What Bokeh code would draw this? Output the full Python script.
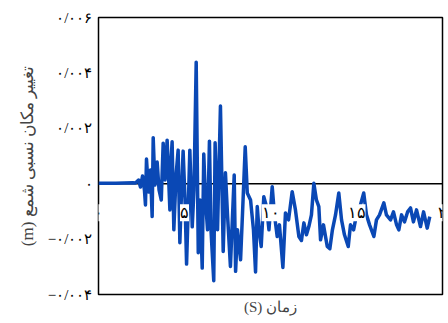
from bokeh.plotting import figure
from bokeh.models import ColumnDataSource, LabelSet, Span, FixedTicker
from bokeh.embed import file_html
from bokeh.resources import INLINE

# time (s)
time_s = [0.00, 1.00, 2.00, 2.15, 2.33, 2.44, 2.56, 2.67, 2.73, 2.79, 2.91, 3.02, 3.12, 3.18,
          3.28, 3.41, 3.52, 3.65, 3.76, 3.87, 3.99, 4.07, 4.15, 4.22, 4.28, 4.38, 4.51, 4.63,
          4.73, 4.83, 4.92, 5.03, 5.12, 5.23, 5.31, 5.45, 5.55, 5.68, 5.80, 5.90, 6.03, 6.12,
          6.22, 6.34, 6.45, 6.54, 6.70, 6.78, 6.92, 7.09, 7.25, 7.38, 7.50, 7.67, 7.89, 7.97,
          8.08, 8.26, 8.37, 8.53, 8.65, 8.84, 9.01, 9.13, 9.23, 9.33, 9.46, 9.61, 9.77, 9.91,
          10.10, 10.23, 10.39, 10.52, 10.72, 10.87, 11.05, 11.26, 11.45, 11.65, 11.80, 11.94,
          12.09, 12.23, 12.38, 12.52, 12.67, 12.81, 12.91, 13.08, 13.30, 13.45, 13.60, 13.78,
          13.97, 14.13, 14.30, 14.52, 14.65, 14.83, 15.00, 15.23, 15.42, 15.58, 15.76, 16.01,
          16.16, 16.34, 16.59, 16.74, 16.98, 17.15, 17.33, 17.46, 17.62, 17.79, 17.97, 18.14,
          18.31, 18.49, 18.72, 18.90, 19.11, 19.26]

# relative pile displacement (x 1e-3 m)
disp_mm = [0.020, 0.020, 0.030, 0.025, 0.133, -0.119, 0.277, -0.227, -0.766, 0.888, -0.299, 0.493,
           -1.187, 1.662, -0.047, 0.781, -0.227, -0.590, 1.464, 0.133, 1.572, 0.313, -0.946, 0.853,
           1.511, -1.665, 0.313, 1.212, -2.133, -0.227, 1.176, -0.586, -2.903, -0.586, 1.212,
           -1.558, -0.227, 4.388, -2.493, -0.586, -3.047, 1.068, -0.586, -1.665, 1.536, -1.665,
           -3.500, 1.475, -1.665, 2.806, -2.446, 0.396, -1.112, -2.986, 0.313, -3.165, -1.665,
           -2.745, -1.112, 1.331, -0.335, -0.586, -1.665, -3.187, -0.827, -1.665, -2.266, -0.468,
           -0.827, -1.665, -0.108, -1.126, -1.906, -1.486, -3.022, -1.054, -1.306, -0.288, -0.946,
           -1.906, -2.050, -1.414, -1.845, -1.547, -1.126, 0.014, -0.586, -0.827, -2.025, -1.486,
           -2.266, -2.349, -1.665, -1.126, -0.335, -1.306, -1.845, -2.266, -1.486, -1.665, -1.126,
           -0.766, -0.335, -1.126, -1.486, -1.906, -1.306, -1.126, -0.694, -1.126, -1.306, -1.018,
           -1.486, -1.665, -1.126, -1.378, -1.018, -0.874, -1.378, -0.946, -1.547, -1.018, -1.604,
           -1.187]

y_ticks = [-0.004, -0.002, 0.0, 0.002, 0.004, 0.006]
y_tick_labels = ["\u2212۰/۰۰۴", "\u2212۰/۰۰۲", "۰", "۰/۰۰۲", "۰/۰۰۴", "۰/۰۰۶"]
x_ticks = [0, 5, 10, 15, 20]
x_tick_labels = ["۰", "۵", "۱۰", "۱۵", "۲"]

x_title = "\u202bزمان (S)\u202c"
y_title = "\u202bتغییر مکان نسبی شمع (m)\u202c"

FONT = "Liberation Serif"
BLUE = "#0a48b5"

disp_m = [v * 1e-3 for v in disp_mm]

p = figure(width=446, height=320, x_range=(0, 20), y_range=(-0.004, 0.006),
           output_backend="svg", toolbar_location=None,
           min_border_left=98, min_border_right=4, min_border_top=17, min_border_bottom=26)
p.background_fill_color = "white"
p.border_fill_color = "white"
p.outline_line_color = "black"
p.outline_line_width = 1.5
p.xgrid.visible = False
p.ygrid.visible = False

zero = Span(location=0, dimension="width", line_color="black", line_width=1.5, level="underlay")
p.add_layout(zero)

p.line(time_s, disp_m, line_color=BLUE, line_width=3.5, line_join="round")

# y axis
yax = p.yaxis[0]
yax.ticker = FixedTicker(ticks=y_ticks)
yax.major_label_overrides = {t: l for t, l in zip(y_ticks, y_tick_labels)}
yax.axis_line_color = None
yax.major_tick_out = 0
yax.major_tick_in = 0
yax.minor_tick_out = 0
yax.minor_tick_in = 0
yax.major_label_standoff = 6
yax.major_label_text_font = FONT
yax.major_label_text_font_size = "15px"
yax.major_label_text_color = "black"
yax.axis_label = y_title
yax.axis_label_text_font = FONT
yax.axis_label_text_font_size = "17px"
yax.axis_label_text_font_style = "normal"
yax.axis_label_standoff = 8

# x axis: only the title below
xax = p.xaxis[0]
xax.ticker = FixedTicker(ticks=[])
xax.axis_line_color = None
xax.major_tick_out = 0
xax.major_tick_in = 0
xax.minor_tick_out = 0
xax.minor_tick_in = 0
xax.major_label_text_font_size = "0px"
xax.major_label_standoff = 0
xax.axis_label = x_title
xax.axis_label_text_font = FONT
xax.axis_label_text_font_size = "15px"
xax.axis_label_text_font_style = "normal"
xax.axis_label_standoff = 4

# x tick labels drawn inside the frame with white boxes
src = ColumnDataSource(dict(x=x_ticks, y=[-0.00105] * len(x_ticks), text=x_tick_labels))
lbls = LabelSet(x="x", y="y", text="text", source=src, text_align="center",
                text_baseline="middle", text_font_size="16px",
                text_font=FONT, text_color="black",
                background_fill_color="white", background_fill_alpha=1.0)
p.add_layout(lbls)

open("out.html", "w").write(file_html(p, INLINE))
